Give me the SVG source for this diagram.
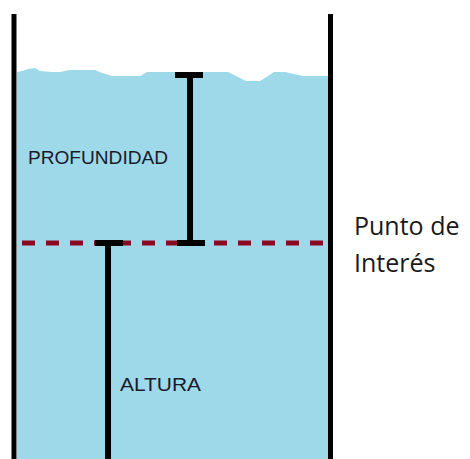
<svg xmlns="http://www.w3.org/2000/svg" width="470" height="459" viewBox="0 0 470 459">
<style>
.wall{stroke:#000;stroke-width:5;fill:none}
.bar{stroke:#000;stroke-width:6;fill:none}
.lbl{font-family:"Liberation Sans",Arial,sans-serif;font-size:19px;fill:#1a1a2a}
.side{font-family:"Open Sans","Liberation Sans",sans-serif;font-size:25px;fill:#1a1a1a}
</style>
<rect width="470" height="459" fill="#fff"/>
<g id="water">
<path d="M17,72 L22,71 L28,69 L35,68 L40,71 L52,72 L60,72 L70,70 L95,70 L102,73 L112,76 L140,76 L147,72 L172,72 L175,72 L210,72 L228,72 L238,77 L246,81 L260,81 L268,76 L274,72 L285,72 L303,76 L328,76 L328,459 L17,459 Z" fill="#9dd9e9"/>
</g>
<g id="tank">
<line class="wall" x1="14" y1="14" x2="14" y2="459"/>
<line class="wall" x1="330.5" y1="14" x2="330.5" y2="459"/>
</g>
<g id="punto">
<line x1="22" y1="243" x2="326" y2="243" stroke="#8b0a22" stroke-width="5" stroke-dasharray="13 11"/>
</g>
<g id="connectors">
<g id="profundidad-bar">
<line class="bar" x1="175" y1="75" x2="203" y2="75"/>
<line class="bar" x1="190" y1="75" x2="190" y2="243"/>
<line class="bar" x1="177" y1="243" x2="205" y2="243"/>
</g>
<g id="altura-bar">
<line class="bar" x1="95" y1="243" x2="123" y2="243"/>
<line class="bar" x1="108" y1="243" x2="108" y2="459"/>
</g>
</g>
<g id="labels">
<text class="lbl" x="28" y="164" textLength="140" lengthAdjust="spacingAndGlyphs">PROFUNDIDAD</text>
<text class="lbl" x="120" y="391" textLength="81" lengthAdjust="spacingAndGlyphs">ALTURA</text>
<text class="side" x="354" y="235">Punto de</text>
<text class="side" x="354" y="272">Interés</text>
</g>
</svg>
